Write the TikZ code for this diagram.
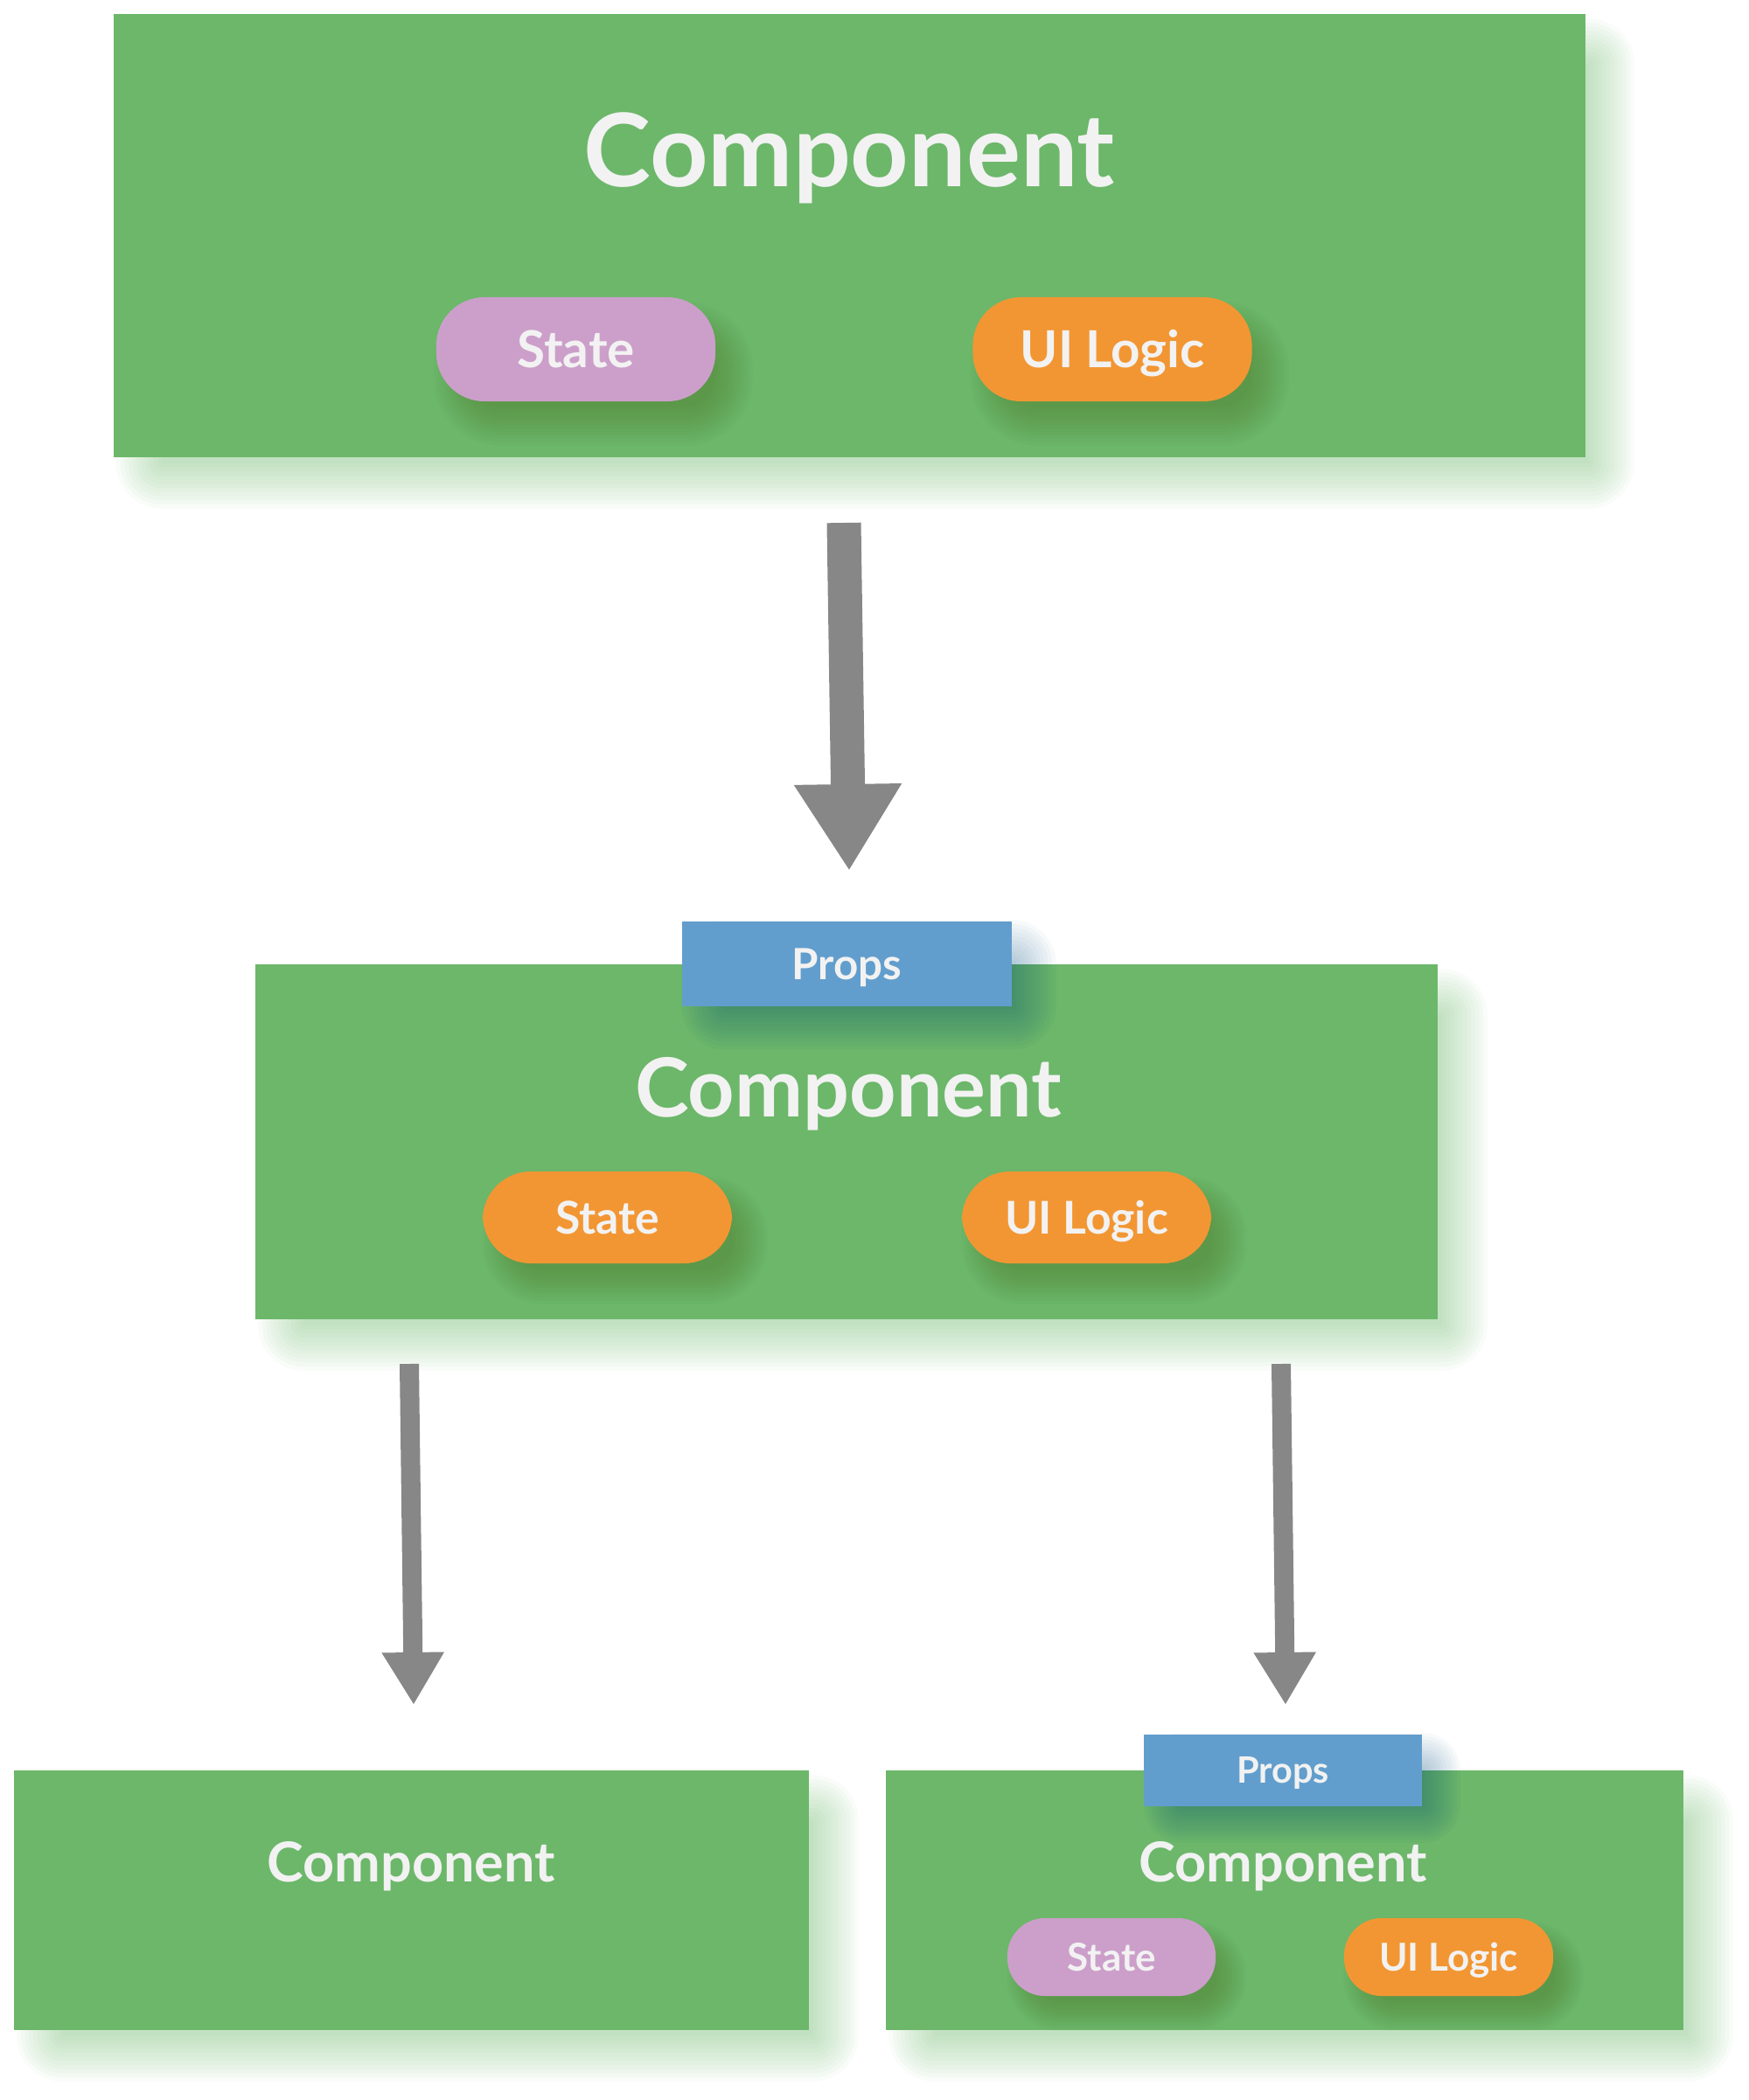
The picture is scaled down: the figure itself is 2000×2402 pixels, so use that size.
\documentclass[tikz,border=0pt]{standalone}
\usepackage{fontspec}
\setmainfont{Lato}
\usetikzlibrary{arrows.meta,calc}
\definecolor{boxgreen}{HTML}{6CB76A}
\definecolor{pilllilac}{HTML}{CC9FCA}
\definecolor{pillorange}{HTML}{F29633}
\definecolor{propsblue}{HTML}{629ECD}
\definecolor{arrowgray}{HTML}{878787}
\definecolor{textwhite}{HTML}{F2F2F2}
\definecolor{propshadow}{RGB}{0,75,125}
\definecolor{pillshadowcol}{RGB}{70,100,20}
\pgfdeclarelayer{bgshadow}
\pgfdeclarelayer{boxlayer}
\pgfdeclarelayer{fgshadow}
\pgfsetlayers{bgshadow,boxlayer,fgshadow,main}
% #1 node, #2 dx, #3 dy, #4 blur radius, #5 colour, #6 opacity per step, #7 corner radius (all in px)
\newcommand{\softshade}[7]{%
  \foreach \k in {0,...,11}{%
    \pgfmathsetmacro{\dd}{#4*(1-\k/5.5)}%
    \pgfmathsetmacro{\rr}{max(#7+\dd,0.5)*0.01}%
    \fill[#5, opacity=#6, rounded corners=\rr cm]
      ($(#1.north west)+(#2-\dd,#3-\dd)$) rectangle ($(#1.south east)+(#2+\dd,#3+\dd)$);
  }}
\begin{document}
\begin{tikzpicture}[x=0.01cm,y=-0.01cm,
  compbox/.style={fill=boxgreen, draw=none, inner sep=0pt},
  comptext/.style={anchor=base, inner sep=0pt, text=textwhite},
  pill/.style={draw=none, inner sep=0pt, rounded corners=0.55cm, text=textwhite, text depth=0pt},
  propstab/.style={fill=propsblue, draw=none, inner sep=0pt, text=textwhite, text depth=0pt},
  flow/.style={draw=arrowgray, line cap=butt}
]
\useasboundingbox (0,0) rectangle (2000,2402);

\begin{pgfonlayer}{boxlayer}
\node[compbox, minimum width=16.82cm, minimum height=5.07cm] (topbox) at (971,269.5) {};
\node[compbox, minimum width=13.52cm, minimum height=4.06cm] (midbox) at (968,1306) {};
\node[compbox, minimum width=9.09cm, minimum height=2.97cm] (leftbox) at (470.5,2173.5) {};
\node[compbox, minimum width=9.12cm, minimum height=2.97cm] (rightbox) at (1469,2173.5) {};
\end{pgfonlayer}

% top component
\node[comptext, font=\bfseries\fontsize{33}{40}\selectfont] (toptitle) at (971,213) {Component};
\node[pill, fill=pilllilac, minimum width=3.19cm, minimum height=1.19cm, text height=11.89pt,
  font=\bfseries\fontsize{16.6}{20}\selectfont] (topstate) at (658.5,399.5) {State};
\node[pill, fill=pillorange, minimum width=3.19cm, minimum height=1.19cm, text height=11.89pt,
  font=\bfseries\fontsize{16.6}{20}\selectfont] (topui) at (1272,399.5) {UI Logic};

% middle component
\node[propstab, minimum width=3.77cm, minimum height=0.97cm, text height=10.03pt,
  font=\bfseries\fontsize{14}{16}\selectfont] (midprops) at (968.5,1102.5) {Props};
\node[comptext, font=\bfseries\fontsize{26.5}{32}\selectfont] (midtitle) at (970,1277) {Component};
\node[pill, fill=pillorange, minimum width=2.85cm, minimum height=1.05cm, text height=10.53pt,
  font=\bfseries\fontsize{14.7}{18}\selectfont] (midstate) at (694.5,1392.5) {State};
\node[pill, fill=pillorange, minimum width=2.85cm, minimum height=1.05cm, text height=10.53pt,
  font=\bfseries\fontsize{14.7}{18}\selectfont] (midui) at (1242.5,1392.5) {UI Logic};

% bottom left component
\node[comptext, font=\bfseries\fontsize{17.9}{22}\selectfont] (lefttitle) at (470,2152) {Component};

% bottom right component
\node[propstab, minimum width=3.18cm, minimum height=0.82cm, text height=8.45pt,
  font=\bfseries\fontsize{11.8}{14}\selectfont] (rightprops) at (1467,2025) {Props};
\node[comptext, font=\bfseries\fontsize{17.9}{22}\selectfont] (righttitle) at (1467,2152) {Component};
\node[pill, fill=pilllilac, minimum width=2.38cm, minimum height=0.89cm, rounded corners=0.43cm,
  text height=8.96pt, font=\bfseries\fontsize{12.5}{15}\selectfont] (rightstate) at (1271,2238.5) {State};
\node[pill, fill=pillorange, minimum width=2.39cm, minimum height=0.89cm, rounded corners=0.43cm,
  text height=8.96pt, font=\bfseries\fontsize{12.5}{15}\selectfont] (rightui) at (1656.5,2238.5) {UI Logic};

% shadows
\begin{pgfonlayer}{bgshadow}
\softshade{topbox}{30}{32}{26}{boxgreen}{0.042}{26}
\softshade{midbox}{30}{32}{26}{boxgreen}{0.042}{26}
\softshade{leftbox}{30}{32}{26}{boxgreen}{0.042}{26}
\softshade{rightbox}{30}{32}{26}{boxgreen}{0.042}{26}
\end{pgfonlayer}
\begin{pgfonlayer}{fgshadow}
\softshade{topstate}{20}{28}{22}{pillshadowcol}{0.03}{55}
\softshade{topui}{20}{28}{22}{pillshadowcol}{0.03}{55}
\softshade{midstate}{20}{26}{20}{pillshadowcol}{0.03}{50}
\softshade{midui}{20}{26}{20}{pillshadowcol}{0.03}{50}
\softshade{rightstate}{17}{22}{17}{pillshadowcol}{0.03}{43}
\softshade{rightui}{17}{22}{17}{pillshadowcol}{0.03}{43}
\softshade{midprops}{25}{24}{25}{propshadow}{0.03}{25}
\softshade{rightprops}{22}{20}{21}{propshadow}{0.03}{21}
\end{pgfonlayer}

% arrows
\coordinate (a1s) at (965,598);
\coordinate (a1e) at (971,996);
\coordinate (a2s) at (468,1560);
\coordinate (a2e) at (473,1950);
\coordinate (a3s) at (1465,1560);
\coordinate (a3e) at (1470,1950);
\draw[flow, line width=0.39cm, -{Triangle[length=0.99cm, width=1.16cm]}] (a1s) -- (a1e);
\draw[flow, line width=0.22cm, -{Triangle[length=0.6cm, width=0.67cm]}] (a2s) -- (a2e);
\draw[flow, line width=0.22cm, -{Triangle[length=0.6cm, width=0.67cm]}] (a3s) -- (a3e);
\end{tikzpicture}
\end{document}
